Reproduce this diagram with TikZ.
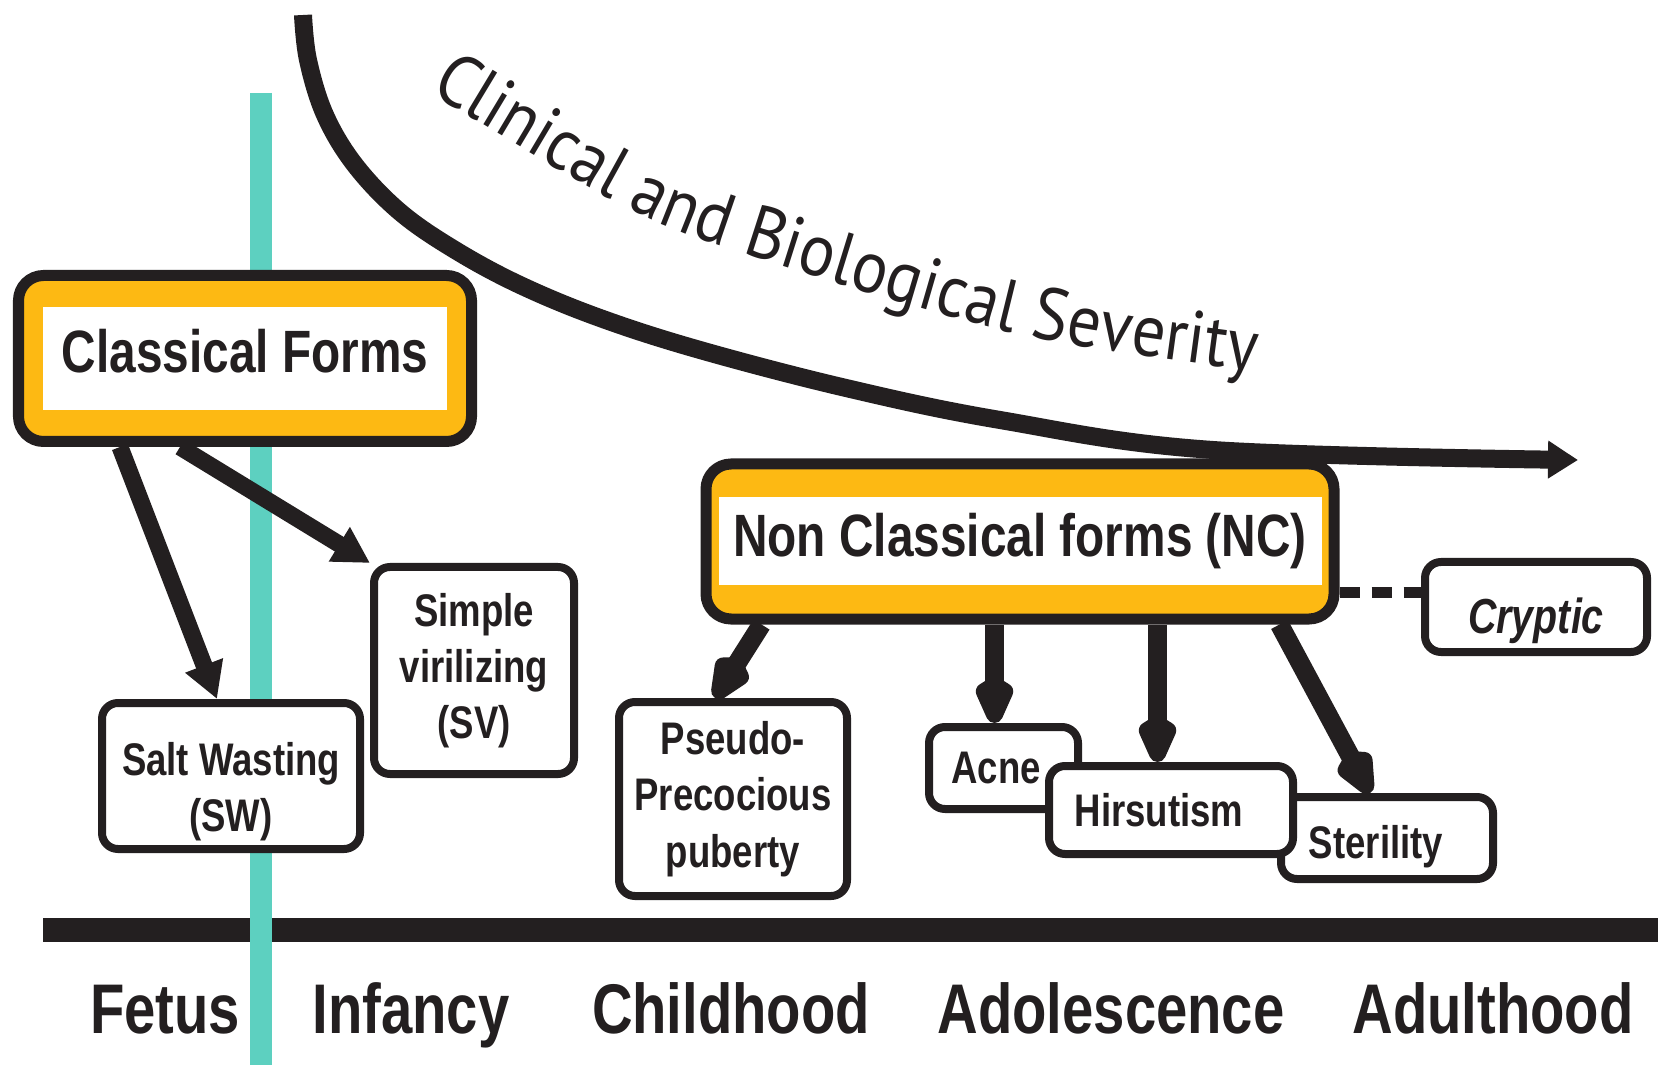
\documentclass[tikz,border=0pt]{standalone}
\usepackage{fontspec}
\setmainfont[FakeStretch=0.8]{Liberation Sans}
\newfontfamily\sevfont[FakeStretch=0.9]{PT Sans}
\usetikzlibrary{arrows.meta,decorations.text}
\definecolor{ink}{RGB}{35,31,32}
\definecolor{gold}{RGB}{253,185,19}
\definecolor{fetal}{RGB}{93,208,192}

\begin{document}
\begin{tikzpicture}[
  formbox/.style 2 args={draw=ink, line width=0.11cm, fill=gold, rounded corners=0.25cm, inner sep=0pt, text=ink,
    font=\bfseries\fontsize{17}{20}\selectfont,
    path picture={\fill[white, sharp corners] ([shift={(#1,#2)}]path picture bounding box.south west) rectangle ([shift={(-#1,-#2)}]path picture bounding box.north east);}},
  stagebox/.style={draw=ink, line width=0.08cm, fill=white, rounded corners=0.16cm, inner sep=0pt, align=center, text=ink,
    font=\bfseries\fontsize{13}{16}\selectfont},
  period/.style={anchor=base, text=ink, font=\bfseries\fontsize{20}{24}\selectfont},
  flow/.style={ink, line width=0.17cm, -{Triangle[length=3.6mm,width=3.8mm]}},
  ncflow/.style={ink, line width=0.19cm, -{Kite[length=6mm,width=4.2mm,inset=1.3mm,round]}},
  severity/.style={ink, line width=0.18cm, -{Triangle[length=3mm,width=3.6mm]}},
  cryptlink/.style={ink, line width=0.11cm, dash pattern=on 0.2cm off 0.12cm}
]
\useasboundingbox (0,0) rectangle (16.58,10.65);

\draw[ink, line width=0.24cm] (0.43,1.35) -- (16.58,1.35);

\draw[fetal, line width=0.22cm] (2.61,9.72) -- (2.61,0);

\foreach \x/\t in {1.65/Fetus, 4.11/Infancy, 7.31/Childhood, 11.11/Adolescence, 14.93/Adulthood}
  \node[period] (\t) at (\x,0.32) {\t};

\draw[severity] plot[smooth, tension=0.6] coordinates {(3.03,10.50) (3.08,10.05) (3.25,9.50) (3.55,9.00) (4.00,8.53) (4.55,8.15) (5.20,7.80) (6.00,7.47) (7.00,7.15) (8.46,6.77) (10.00,6.45) (12.13,6.15) (15.78,6.05)};

\path[decorate, decoration={text along path, text color=ink,
  text={|\sevfont\fontsize{21}{25}\selectfont|Clinical and Biological Severity}}]
  plot[smooth] coordinates {(4.29,9.73) (6.12,8.65) (7.27,8.17) (10.13,7.32) (12.62,6.93) (13.60,6.85)};

\node[formbox={0.245cm}{0.315cm}, minimum width=4.53cm, minimum height=1.66cm] (CF) at (2.45,7.065) {\rule[-4.6pt]{0pt}{4.6pt}Classical Forms};
\node[formbox={0.125cm}{0.335cm}, minimum width=6.28cm, minimum height=1.55cm] (NC) at (10.20,5.235) {Non Classical forms (NC)};

\node[stagebox, minimum width=2.58cm, minimum height=1.46cm] (SW) at (2.31,2.89) {\rule{0pt}{18.5pt}Salt Wasting\\(SW)};
\node[stagebox, minimum width=2.00cm, minimum height=2.07cm] (SV) at (4.74,3.945) {Simple\\virilizing\\(SV)};
\node[stagebox, minimum width=2.28cm, minimum height=1.94cm] (PP) at (7.33,2.66) {Pseudo-\\Precocious\\puberty};
\node[stagebox, minimum width=1.49cm, minimum height=0.82cm] (Acne) at (10.035,2.97) {Acne\hspace*{0.15cm}};
\node[stagebox, minimum width=2.12cm, minimum height=0.82cm] (Sterility) at (13.87,2.27) {\rule{0pt}{14.5pt}Sterility\hspace*{0.22cm}};
\node[stagebox, minimum width=2.44cm, minimum height=0.88cm] (Hirsutism) at (11.71,2.55) {Hirsutism\hspace*{0.24cm}};
\node[stagebox, minimum width=2.22cm, minimum height=0.90cm, font=\bfseries\itshape\fontsize{14}{17}\selectfont] (Cryptic) at (15.36,4.58) {\rule{0pt}{18pt}Cryptic};

\draw[flow] ([xshift=1.07cm]CF.south west) -- ([xshift=-0.14cm]SW.north);
\draw[flow] ([xshift=1.67cm]CF.south west) -- (SV.north west);

\coordinate (ncacne) at ([xshift=2.94cm]NC.south west);
\coordinate (nchirs) at ([xshift=4.57cm]NC.south west);
\draw[ncflow] ([xshift=0.61cm]NC.south west) -- ([xshift=-0.18cm]PP.north);
\draw[ncflow] (ncacne) -- (ncacne |- Acne.north);
\draw[ncflow] (nchirs) -- (nchirs |- Hirsutism.north);
\draw[ncflow] ([xshift=5.79cm]NC.south west) -- ([xshift=-0.17cm]Sterility.north);

\coordinate (cryptend) at ([yshift=0.15cm]Cryptic.west);
\draw[cryptlink] (cryptend -| NC.east) -- (cryptend);

\end{tikzpicture}
\end{document}
